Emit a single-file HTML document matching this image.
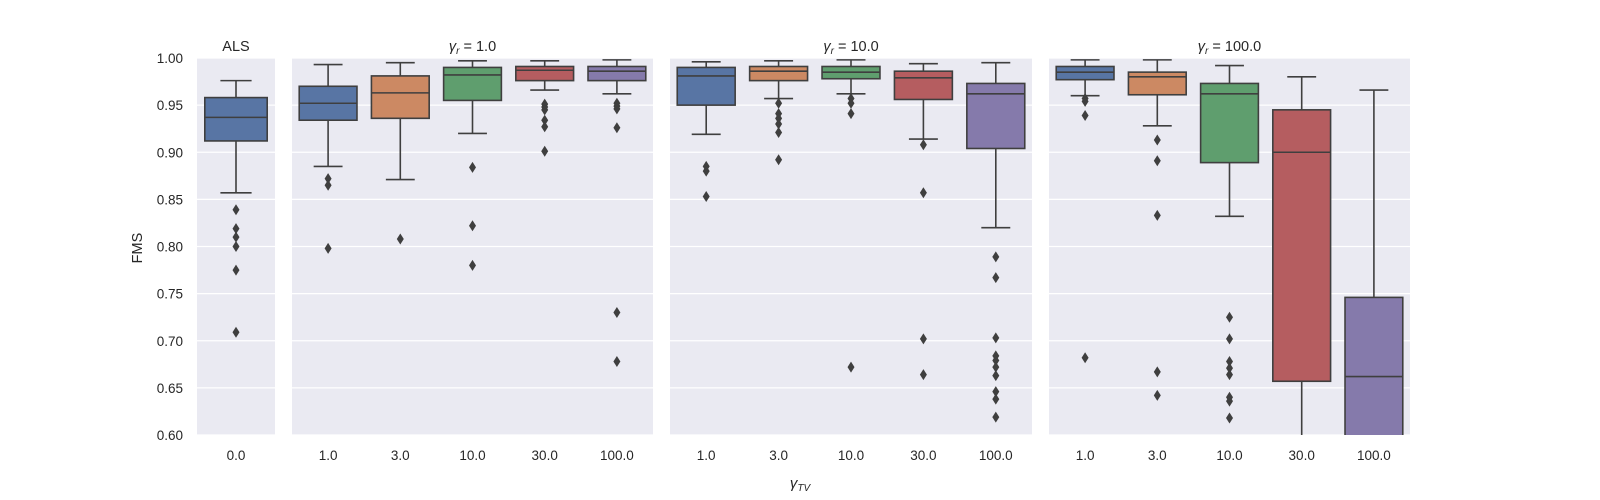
<!DOCTYPE html>
<html><head><meta charset="utf-8"><style>
html,body{margin:0;padding:0;background:#fff;width:1600px;height:500px;overflow:hidden;}
svg{display:block;font-family:"Liberation Sans","DejaVu Sans",sans-serif;}
</style></head><body>
<svg id="chart" width="1600" height="500"></svg>
<script>
const panelTitles = ["ALS", "γr = 1.0", "γr = 10.0", "γr = 100.0"];
const alsCategories = ["0.0"];
const tvCategories = ["1.0", "3.0", "10.0", "30.0", "100.0"];
const yTicks = [0.60, 0.65, 0.70, 0.75, 0.80, 0.85, 0.90, 0.95, 1.00];
// [low whisker, q1, median, q3, high whisker]
const alsStats = [[0.857, 0.912, 0.937, 0.958, 0.976]];
const alsOutliers = [[0.839, 0.819, 0.810, 0.800, 0.775, 0.709]];
const r1Stats = [[0.885,0.934,0.952,0.970,0.993],[0.871,0.936,0.963,0.981,0.995],[0.920,0.955,0.982,0.990,0.997],[0.966,0.976,0.987,0.991,0.997],[0.962,0.976,0.986,0.991,0.998]];
const r1Outliers = [[0.872,0.865,0.798],[0.808],[0.884,0.822,0.780],[0.951,0.948,0.945,0.934,0.927,0.901],[0.952,0.949,0.946,0.926,0.730,0.678]];
const r10Stats = [[0.919,0.950,0.981,0.990,0.996],[0.957,0.976,0.986,0.991,0.997],[0.962,0.978,0.985,0.991,0.998],[0.914,0.956,0.979,0.986,0.994],[0.820,0.904,0.962,0.973,0.995]];
const r10Outliers = [[0.885,0.880,0.853],[0.952,0.941,0.936,0.930,0.921,0.892],[0.957,0.952,0.941,0.672],[0.908,0.857,0.702,0.664],[0.789,0.767,0.703,0.684,0.679,0.672,0.663,0.646,0.638,0.619]];
const r100Stats = [[0.960,0.977,0.985,0.991,0.998],[0.928,0.961,0.980,0.985,0.998],[0.832,0.889,0.962,0.973,0.992],[0.50,0.657,0.900,0.945,0.980],[0.40,0.55,0.662,0.746,0.966]];
const r100Outliers = [[0.957,0.954,0.939,0.682],[0.913,0.891,0.833,0.667,0.642],[0.725,0.702,0.678,0.671,0.664,0.640,0.636,0.618],[],[]];

const colors = ["#5875a4","#cc8963","#5f9e6e","#b55d60","#857aab"];
const NS = "http://www.w3.org/2000/svg";
const svg = document.getElementById("chart");
const plotTop = 58, plotBottom = 435, yMin = 0.6, yMax = 1.0;
const y = v => { const c = Math.max(yMin - 0.002, Math.min(yMax + 0.002, v)); return plotBottom - (c - yMin) / (yMax - yMin) * (plotBottom - plotTop); };
function mk(tag, attrs, parent){const e=document.createElementNS(NS,tag);for(const k in attrs)e.setAttribute(k,attrs[k]);(parent||svg).appendChild(e);return e;}

const panels = [
 {x0:197,x1:275,cats:alsCategories,stats:alsStats,outs:alsOutliers,name:"als"},
 {x0:292,x1:653,cats:tvCategories,stats:r1Stats,outs:r1Outliers,name:"gamma-r-1"},
 {x0:670,x1:1032,cats:tvCategories,stats:r10Stats,outs:r10Outliers,name:"gamma-r-10"},
 {x0:1049,x1:1410,cats:tvCategories,stats:r100Stats,outs:r100Outliers,name:"gamma-r-100"}
];
const defs = mk("defs",{});
panels.forEach((p,pi)=>{
  const cp = mk("clipPath",{id:"c"+pi},defs);
  mk("rect",{x:p.x0,y:plotTop,width:p.x1-p.x0,height:plotBottom-plotTop},cp);
  const g = mk("g",{});
  
  
  const bg = mk("rect",{x:p.x0,y:plotTop,width:p.x1-p.x0,height:plotBottom-plotTop,fill:"#eaeaf2"},g);
  
  
  yTicks.forEach(t=>{
    const gl = mk("line",{x1:p.x0,x2:p.x1,y1:y(t),y2:y(t),stroke:"#fff","stroke-width":1.2},g);
    
    
  });
  const t = mk("text",{x:(p.x0+p.x1)/2,y:51,"text-anchor":"middle","font-size":"14.5",fill:"#262626"},g);
  if(pi===0){t.textContent=panelTitles[0];}
  else{const parts=panelTitles[pi].split(" = ");
    const a=mk("tspan",{"font-style":"italic"},t);a.textContent="γ";
    const b=mk("tspan",{"font-style":"italic","font-size":"10",dy:"3"},t);b.textContent="r";
    const c=mk("tspan",{dy:"-3"},t);c.textContent=" = "+parts[1];}
  
  
  const n = p.cats.length, w = (p.x1-p.x0)/n;
  const bw = w*0.8;
  const cg = mk("g",{"clip-path":"url(#c"+pi+")"},g);
  p.cats.forEach((c,i)=>{
    const cx = p.x0 + w*(i+0.5);
    const s = p.stats[i];
    const bx = mk("g",{},cg);
    
    
    const st = {stroke:"#3f3f3f","stroke-width":1.6};
    mk("line",Object.assign({x1:cx,x2:cx,y1:y(s[0]),y2:y(s[1])},st),bx);
    mk("line",Object.assign({x1:cx,x2:cx,y1:y(s[3]),y2:y(s[4])},st),bx);
    mk("line",Object.assign({x1:cx-bw/4,x2:cx+bw/4,y1:y(s[0]),y2:y(s[0])},st),bx);
    mk("line",Object.assign({x1:cx-bw/4,x2:cx+bw/4,y1:y(s[4]),y2:y(s[4])},st),bx);
    mk("rect",Object.assign({x:cx-bw/2,y:y(s[3]),width:bw,height:y(s[1])-y(s[3]),fill:colors[(p.cats.length===1)?0:i]},st),bx);
    mk("line",Object.assign({x1:cx-bw/2,x2:cx+bw/2,y1:y(s[2]),y2:y(s[2])},st),bx);
    p.outs[i].forEach(o=>{
      const oy=y(o);
      const d = mk("path",{d:`M${cx} ${oy-5.5}L${cx+3.5} ${oy}L${cx} ${oy+5.5}L${cx-3.5} ${oy}Z`,fill:"#3f3f3f"},bx);
      
      
    });
    const lab = mk("text",{x:cx,y:460,"text-anchor":"middle","font-size":"13.5",fill:"#262626"},g);
    lab.textContent=c;
    
    
  });
});
yTicks.forEach(t=>{
  const l = mk("text",{x:183,y:y(t)+5,"text-anchor":"end","font-size":"13.5",fill:"#262626"});
  l.textContent=t.toFixed(2);
  
  
});
const yt = mk("text",{x:142,y:248,"text-anchor":"middle","font-size":"14.5",fill:"#262626",transform:"rotate(-90 142 248)"});
yt.textContent="FMS";


const xt = mk("text",{x:800,y:488,"text-anchor":"middle","font-size":"15",fill:"#262626"});
const xa=mk("tspan",{"font-style":"italic"},xt);xa.textContent="γ";
const xb=mk("tspan",{"font-style":"italic","font-size":"10",dy:"3"},xt);xb.textContent="TV";


</script>
</body></html>
